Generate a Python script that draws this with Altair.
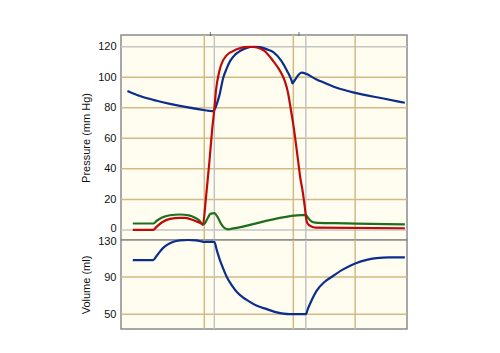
import altair as alt
import pandas as pd

# ---- data (time in ms) ----
aorta_t = [18, 53, 100, 137, 180, 220, 258, 264, 270, 275, 286, 296, 305, 320, 333, 350, 370, 389, 408, 426, 449, 465, 477, 480, 483, 505, 547, 603, 655, 734, 794]
aorta_p = [91, 87.7, 84.6, 82.6, 80.6, 79, 77.8, 80, 84, 88, 99.7, 106, 110.6, 115, 117.2, 119, 120, 119.8, 118.3, 116.5, 110.6, 104, 98, 96, 97, 103, 98.6, 93.1, 89.8, 86.1, 83.3]

lv_t = [33, 90, 100, 115, 137, 165, 179, 195, 210, 222, 229, 238, 247, 255, 261, 266, 275, 294, 324, 345, 361, 380, 400, 426, 440, 450, 459, 467, 475, 482, 489, 495, 501, 509, 515, 517, 521, 531, 545, 794]
lv_p = [0, 0, 2.2, 5, 7.2, 7.9, 7.9, 7, 5.7, 4.5, 3.5, 22, 44, 65.8, 79, 92, 104, 114, 118.3, 119.8, 120, 119.5, 117.5, 110.6, 106, 102, 97, 90, 79, 69, 57, 46, 35, 24, 13.4, 9, 4.6, 2.4, 1.5, 1.1]

atrium_t = [33, 90, 100, 115, 137, 165, 190, 207, 220, 229, 235, 243, 250, 261, 270, 280, 290, 300, 310, 517, 523, 533, 543, 600, 700, 794]
atrium_p = [4.2, 4.2, 6, 8.2, 9.6, 10.1, 9.5, 8, 6, 3.5, 4.5, 8, 10.5, 11, 8.5, 4, 1.2, 0.4, 0.8, 9.8, 8, 5.5, 4.8, 4.4, 4, 3.6]

vol_t = [33, 90, 100, 110, 118, 130, 145, 165, 187, 210, 225, 233, 261, 268, 277, 286, 296, 310, 324, 340, 356, 380, 408, 430, 454, 470, 517, 523, 532, 547, 570, 594, 620, 655, 690, 715, 750, 794]
vol_v = [108.4, 108.4, 113, 118, 121.5, 125, 127.8, 129.5, 130, 129.6, 128.5, 128, 128, 119, 108, 99, 90, 81, 74, 68.5, 64.4, 59, 55.4, 52.5, 50.6, 50, 50, 56, 64, 75.2, 85, 91.4, 98, 104.7, 108.8, 110.5, 111.2, 111.2]

event_t = [233, 261, 482, 517, 655]
event_kind = ["tan", "gray", "tan", "gray", "tan"]
top_marks_t = [250, 498]

p_ticks = [0, 20, 40, 60, 80, 100, 120]
p_grid_kind = ["gray", "tan", "tan", "tan", "tan", "tan", "gray"]
v_ticks = [50, 90, 130]
v_grid_vals = [50, 90]

RED = "#bf0a0a"
BLUE = "#0b2d8c"
GREEN = "#1d6e1d"
TAN = "#d4b985"
GRAY = "#c4c4c4"

x_scale = alt.Scale(domain=[0, 800], nice=False, zero=False)
p_scale = alt.Scale(domain=[-6.6, 127.7], nice=False, zero=False)
v_scale = alt.Scale(domain=[34, 130], nice=False, zero=False)

grid_color = alt.Color("kind:N", scale=alt.Scale(domain=["tan", "gray"], range=[TAN, GRAY]), legend=None)


def y_axis(vals, title, edge_value, edge_offset):
    return alt.Axis(values=vals, title=title, grid=False, ticks=False, domain=False,
                    labelPadding=5, titlePadding=6, labelFlush=False, labelOverlap=False,
                    labelOffset={"condition": {"test": f"datum.value === {edge_value}", "value": edge_offset},
                                 "value": 0})


P_AXIS = y_axis(p_ticks, "Pressure (mm Hg)", 0, -1)
V_AXIS = y_axis(v_ticks, "Volume (ml)", 130, 1.5)


def line_df(t, v):
    return pd.DataFrame({"t": t, "v": v})


def curve(t, v, color, yscale, yaxis):
    return alt.Chart(line_df(t, v)).mark_line(color=color, strokeWidth=2.2, interpolate="monotone").encode(
        x=alt.X("t:Q", scale=x_scale, axis=None),
        y=alt.Y("v:Q", scale=yscale, axis=yaxis),
    )


ev = pd.DataFrame({"t": event_t, "kind": event_kind})

# ---- pressure panel ----
p_grid = pd.DataFrame({"v": p_ticks, "kind": p_grid_kind})
p_hrules = alt.Chart(p_grid).mark_rule(strokeWidth=1.5).encode(
    y=alt.Y("v:Q", scale=p_scale, axis=P_AXIS),
    color=grid_color,
)
p_vrules = alt.Chart(ev).mark_rule(strokeWidth=1.5).encode(
    x=alt.X("t:Q", scale=x_scale, axis=None), color=grid_color)

top_marks = alt.Chart(pd.DataFrame({"t": top_marks_t})).mark_tick(
    color="#444", size=4, thickness=1, orient="vertical").encode(
    x=alt.X("t:Q", scale=x_scale, axis=None), y=alt.value(-1))

pressure = alt.layer(
    p_hrules, p_vrules,
    curve(atrium_t, atrium_p, GREEN, p_scale, P_AXIS),
    curve(aorta_t, aorta_p, BLUE, p_scale, P_AXIS),
    curve(lv_t, lv_p, RED, p_scale, P_AXIS),
    top_marks,
).properties(width=286, height=205)

# ---- volume panel ----
v_grid = pd.DataFrame({"v": v_grid_vals, "kind": ["tan", "tan"]})
v_hrules = alt.Chart(v_grid).mark_rule(strokeWidth=1.5).encode(
    y=alt.Y("v:Q", scale=v_scale, axis=V_AXIS),
    color=grid_color,
)
v_vrules = alt.Chart(ev).mark_rule(strokeWidth=1.5).encode(
    x=alt.X("t:Q", scale=x_scale, axis=None), color=grid_color)

volume = alt.layer(
    v_hrules, v_vrules,
    curve(vol_t, vol_v, BLUE, v_scale, V_AXIS),
).properties(width=286, height=89)

chart = alt.vconcat(pressure, volume, spacing=0, bounds="flush").properties(
    padding={"left": 79, "top": 31, "right": 10, "bottom": 10},
    background="white",
).configure_view(
    stroke="#8a8a8a", strokeWidth=1.5, fill="#fffdf0"
).configure_axis(
    labelFont="Liberation Sans", titleFont="Liberation Sans",
    labelFontSize=11, titleFontSize=11, titleFontWeight="normal",
    labelColor="#111", titleColor="#111",
)

chart.save("out.html", embed_options={"renderer": "svg", "actions": False})
